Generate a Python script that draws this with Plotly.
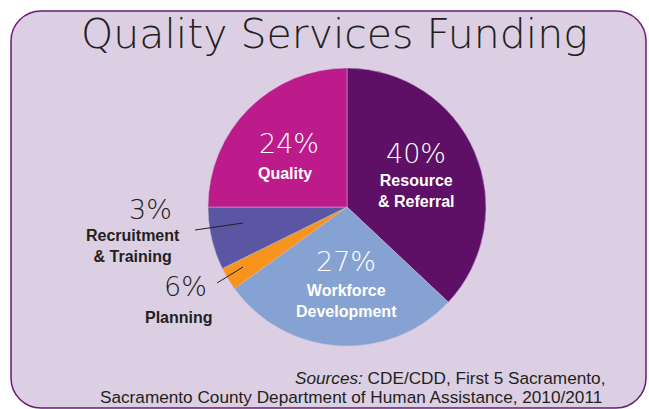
import plotly.graph_objects as go

# Data (slice shares as drawn; printed labels as shown)
categories = ["Resource & Referral", "Workforce Development", "Planning", "Recruitment & Training", "Quality"]
shares = [37, 28, 2.7, 7.3, 25]
pct_labels = ["40%", "27%", "6%", "3%", "24%"]
colors = ["#5e0f66", "#86a2d3", "#f7941e", "#5a56a3", "#bd1b8b"]
source_lines = ["<i>Sources:</i> CDE/CDD, First 5 Sacramento,",
                "Sacramento County Department of Human Assistance, 2010/2011"]

W, H = 649, 409
def px(x): return x / W
def py(y): return 1 - y / H

# pie geometry (pixels)
cx, cy, r = 347, 207, 139

fig = go.Figure()
fig.add_trace(go.Pie(
    labels=categories, values=shares, sort=False, direction="clockwise", rotation=0,
    marker=dict(colors=colors, line=dict(color="#c9b8d3", width=0.5)),
    textinfo="none", hoverinfo="label", showlegend=False,
    domain=dict(x=[px(cx - r), px(cx + r)], y=[py(cy + r), py(cy - r)]),
))

# rounded frame
x0, y0, x1, y1, rad = 11, 11, 646, 408, 30
k = 0.5523 * rad
def P(x, y): return f"{px(x):.5f},{py(y):.5f}"
path = (f"M {P(x0+rad, y0)} L {P(x1-rad, y0)} "
        f"C {P(x1-rad+k, y0)} {P(x1, y0+rad-k)} {P(x1, y0+rad)} "
        f"L {P(x1, y1-rad)} C {P(x1, y1-rad+k)} {P(x1-rad+k, y1)} {P(x1-rad, y1)} "
        f"L {P(x0+rad, y1)} C {P(x0+rad-k, y1)} {P(x0, y1-rad+k)} {P(x0, y1-rad)} "
        f"L {P(x0, y0+rad)} C {P(x0, y0+rad-k)} {P(x0+rad-k, y0)} {P(x0+rad, y0)} Z")
shapes = [dict(type="path", xref="paper", yref="paper", path=path,
               fillcolor="#dccfe3", line=dict(color="#6a1a78", width=1.5), layer="below")]
# leader lines
for (ax, ay, bx, by) in [(195, 230, 243, 223), (217, 283, 243, 267)]:
    shapes.append(dict(type="line", xref="paper", yref="paper",
                       x0=px(ax), y0=py(ay), x1=px(bx), y1=py(by),
                       line=dict(color="#231f20", width=1)))

LIGHT = "DejaVu Sans"
light = dict(family=LIGHT, size=27, color="white", weight=200)
bold_w = dict(family="Liberation Sans", size=16, color="white", weight="bold")
bold_d = dict(family="Liberation Sans", size=16, color="#231f20", weight="bold")
light_d = dict(family=LIGHT, size=27, color="#231f20", weight=200)
src_font = dict(family="Liberation Sans", size=17.2, color="#231f20")

ann = []
def A(x, y, text, font, xanchor="center", align="center"):
    ann.append(dict(xref="paper", yref="paper", x=px(x), y=py(y), text=text, showarrow=False,
                    font=font, xanchor=xanchor, yanchor="middle", align=align))

A(334, 34, "Quality Services Funding", dict(family=LIGHT, size=41, color="#231f20", weight=200))
A(416, 153, pct_labels[0], light)
A(416, 191, "Resource<br>& Referral", bold_w)
A(346, 261, pct_labels[1], light)
A(346, 301, "Workforce<br>Development", bold_w)
A(289, 143, pct_labels[4], light)
A(285, 173, "Quality", bold_w)
A(150, 209, pct_labels[3], light_d)
A(133, 246, "Recruitment<br>& Training", bold_d)
A(186, 286, pct_labels[2], light_d)
A(179, 317, "Planning", bold_d)
A(607, 378, source_lines[0], src_font, xanchor="right", align="right")
A(604, 397, source_lines[1], src_font, xanchor="right", align="right")

fig.update_layout(width=W, height=H, margin=dict(l=0, r=0, t=0, b=0),
                  paper_bgcolor="white", plot_bgcolor="white",
                  shapes=shapes, annotations=ann)
fig.write_html("out.html", config={"displayModeBar": False},
               post_script="document.body.style.margin='0';document.body.style.overflow='hidden';")
